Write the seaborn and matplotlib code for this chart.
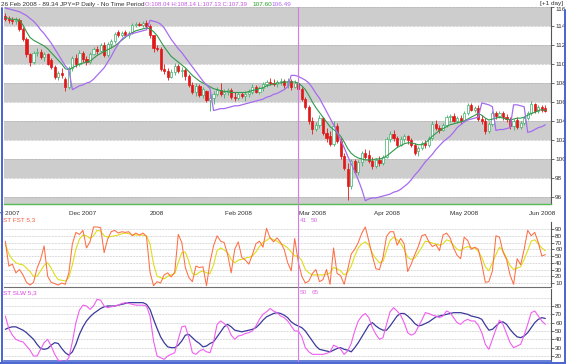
import matplotlib
matplotlib.use("Agg")
import matplotlib.pyplot as plt
from matplotlib.lines import Line2D
import numpy as np
import pandas as pd
import seaborn as sns

# JPY=P daily bars, one per trading day from 1 Nov 2007
start_date = "2007-11-01"

opens = [
    115.1, 114.7, 114.6, 114.5, 114.6, 113.7, 112.6, 111.0, 110.2, 111.2,
    111.3, 110.7, 111.0, 110.4, 109.7, 108.6, 109.1, 108.4, 107.6, 109.6,
    110.6, 110.0, 111.2, 110.5, 110.2, 111.1, 111.6, 111.4, 112.0, 110.9,
    112.1, 112.4, 113.4, 113.0, 113.4, 113.0, 113.3, 114.1, 114.2, 114.1,
    114.3, 114.0, 113.0, 111.7, 111.6, 109.5, 109.3, 108.6, 109.2, 109.8,
    109.3, 109.4, 108.7, 107.8, 107.0, 107.7, 106.7, 107.2, 106.2, 106.4,
    106.8, 107.3, 106.8, 107.0, 107.3, 106.5, 106.4, 106.8, 106.6, 106.8,
    107.1, 107.6, 107.0, 107.5, 107.9, 108.1, 108.0, 107.9, 108.1, 108.2,
    107.8, 108.2, 107.6, 108.04, 107.4, 106.3, 105.5, 104.0, 103.2, 103.6,
    104.3, 102.7, 102.4, 101.6, 103.5, 101.9, 100.3, 98.9, 97.2, 99.8,
    98.6, 99.7, 100.6, 100.4, 99.8, 99.3, 99.9, 99.6, 100.2, 102.1,
    102.6, 102.2, 101.5, 102.1, 102.4, 102.0, 101.5, 100.8, 101.2, 101.7,
    101.5, 102.2, 103.7, 103.3, 103.0, 103.6, 104.4, 104.5, 104.0, 104.3,
    104.0, 104.8, 105.7, 105.2, 105.4, 104.2, 104.0, 102.9, 103.7, 104.8,
    104.5, 104.8, 104.4, 104.2, 103.5, 104.1, 103.4, 103.8, 104.3, 104.8,
    105.8, 105.0, 105.5, 105.4,
]
highs = [
    115.4, 115.0, 114.9, 114.9, 114.8, 113.9, 112.8, 111.2, 111.4, 111.7,
    111.6, 111.3, 111.2, 110.6, 109.9, 109.3, 109.6, 108.6, 109.8, 110.8,
    111.0, 111.5, 111.4, 110.8, 111.3, 111.8, 111.9, 112.2, 112.3, 112.3,
    112.6, 113.4, 113.6, 113.5, 113.6, 113.5, 114.3, 114.4, 114.4, 114.5,
    114.6, 114.2, 113.1, 112.0, 111.8, 110.0, 109.6, 109.5, 110.1, 110.0,
    109.7, 109.6, 108.9, 108.1, 108.0, 107.9, 107.6, 107.3, 106.9, 107.2,
    107.6, 108.0, 107.4, 107.5, 107.5, 107.0, 107.0, 107.1, 107.2, 107.4,
    107.9, 107.8, 107.7, 108.1, 108.3, 108.5, 108.4, 108.3, 108.5, 108.4,
    108.5, 108.4, 108.3, 108.14, 107.6, 106.5, 105.7, 104.4, 103.9, 104.6,
    104.4, 103.3, 102.9, 104.0, 103.8, 102.2, 100.6, 99.6, 100.0, 100.0,
    99.9, 100.8, 101.0, 100.9, 100.2, 100.1, 100.3, 100.4, 102.3, 102.9,
    103.0, 102.4, 102.4, 102.6, 102.5, 102.2, 101.7, 101.4, 101.9, 102.0,
    102.4, 104.0, 104.1, 103.6, 103.8, 104.6, 104.7, 104.8, 104.5, 104.6,
    105.0, 105.9, 105.9, 105.6, 105.7, 104.6, 104.3, 103.9, 105.0, 105.1,
    105.0, 105.0, 104.7, 104.4, 104.2, 104.4, 104.0, 104.5, 105.0, 106.1,
    105.9, 105.7, 105.7, 105.7,
]
lows = [
    114.5, 114.3, 114.2, 114.2, 113.5, 112.4, 110.7, 109.8, 110.0, 110.8,
    110.5, 110.3, 109.9, 109.5, 108.4, 108.3, 108.5, 107.2, 107.4, 109.3,
    109.7, 109.8, 110.2, 109.9, 110.0, 110.9, 111.1, 111.3, 110.7, 110.7,
    111.7, 112.2, 112.8, 112.8, 112.9, 112.7, 113.2, 113.9, 114.0, 113.9,
    113.7, 112.7, 111.3, 111.4, 109.3, 108.9, 108.3, 108.5, 108.8, 109.0,
    108.6, 108.3, 107.6, 106.8, 106.6, 106.5, 106.4, 106.0, 105.0, 105.8,
    106.6, 106.6, 106.4, 106.7, 106.3, 106.1, 106.2, 106.4, 106.1, 106.5,
    106.8, 106.9, 106.8, 107.2, 107.6, 107.8, 107.7, 107.6, 107.8, 107.5,
    107.5, 107.3, 107.5, 107.13, 106.1, 105.3, 103.7, 102.6, 102.9, 103.3,
    102.5, 101.8, 101.4, 101.4, 101.7, 100.0, 98.8, 95.7, 96.8, 98.4,
    98.3, 99.3, 100.0, 99.6, 98.9, 99.0, 99.3, 99.4, 100.1, 101.8,
    101.9, 101.3, 101.4, 101.8, 101.6, 101.3, 100.4, 100.3, 100.9, 101.2,
    101.3, 102.0, 103.0, 102.7, 102.9, 103.4, 103.9, 103.9, 103.8, 103.7,
    103.9, 104.6, 105.0, 104.9, 104.0, 103.7, 102.6, 102.7, 103.5, 104.2,
    104.3, 104.1, 103.9, 103.2, 103.1, 103.2, 103.2, 103.6, 104.1, 104.6,
    104.8, 104.8, 104.9, 104.9,
]
closes = [
    114.7, 114.6, 114.5, 114.6, 113.7, 112.6, 111.1, 110.2, 111.2, 111.3,
    110.7, 111.0, 110.0, 109.7, 108.6, 109.1, 108.8, 107.6, 109.6, 110.6,
    110.0, 111.2, 110.5, 110.2, 111.1, 111.6, 111.4, 112.0, 110.9, 112.1,
    112.4, 113.2, 113.0, 113.3, 113.0, 113.3, 114.1, 114.2, 114.1, 114.3,
    114.0, 113.0, 111.7, 111.6, 109.5, 109.3, 108.6, 109.2, 109.8, 109.3,
    109.4, 108.7, 107.8, 107.0, 107.7, 106.7, 107.4, 106.2, 106.4, 106.8,
    107.3, 106.8, 107.0, 107.3, 106.5, 106.4, 106.8, 106.6, 106.8, 107.1,
    107.6, 107.0, 107.5, 107.9, 108.1, 108.0, 107.9, 108.1, 108.2, 107.8,
    108.2, 107.6, 108.0, 107.39, 106.3, 105.5, 104.0, 103.2, 103.6, 104.3,
    102.7, 102.2, 101.6, 103.5, 101.9, 100.3, 99.0, 97.2, 99.8, 98.6,
    99.7, 100.6, 100.2, 99.8, 99.3, 99.9, 99.6, 100.2, 102.1, 102.6,
    102.2, 101.5, 102.1, 102.4, 102.0, 101.5, 100.6, 101.2, 101.7, 101.5,
    102.2, 103.7, 103.3, 103.0, 103.6, 104.4, 104.5, 104.0, 104.3, 104.0,
    104.8, 105.7, 105.2, 105.4, 104.2, 104.0, 102.9, 103.7, 104.8, 104.5,
    104.8, 104.4, 104.2, 103.5, 104.0, 103.4, 103.8, 104.3, 104.8, 105.8,
    105.0, 105.5, 105.2, 105.1,
]

# green moving average and purple stop-and-reverse line
ma_line = [
    114.9, 114.8, 114.7, 114.7, 114.6, 114.1, 113.4, 112.8, 112.5, 112.3,
    112.1, 111.9, 111.6, 111.2, 110.8, 110.4, 110.0, 109.5, 109.4, 109.6,
    109.8, 110.0, 110.1, 110.2, 110.3, 110.6, 110.9, 111.1, 111.3, 111.5,
    111.7, 111.9, 112.2, 112.5, 112.8, 113.1, 113.3, 113.5, 113.6, 113.7,
    113.8, 113.7, 113.4, 113.0, 112.4, 111.8, 111.3, 110.8, 110.5, 110.2,
    109.9, 109.6, 109.2, 108.8, 108.5, 108.2, 108.0, 107.8, 107.6, 107.4,
    107.3, 107.2, 107.1, 107.1, 107.0, 107.0, 107.0, 107.0, 107.0, 107.1,
    107.2, 107.3, 107.4, 107.5, 107.7, 107.8, 107.9, 108.0, 108.0, 108.1,
    108.1, 108.1, 108.1, 108.0, 107.7, 107.3, 106.7, 106.0, 105.4, 104.9,
    104.4, 103.9, 103.4, 103.1, 102.8, 102.4, 101.8, 101.1, 100.6, 100.3,
    100.1, 100.0, 99.9, 99.9, 99.9, 100.0, 100.0, 100.1, 100.3, 100.6,
    100.9, 101.2, 101.4, 101.6, 101.7, 101.7, 101.6, 101.5, 101.5, 101.7,
    102.0, 102.4, 102.7, 103.0, 103.2, 103.4, 103.6, 103.7, 103.8, 103.9,
    104.0, 104.2, 104.4, 104.6, 104.8, 104.6, 104.3, 104.1, 104.2, 104.3,
    104.4, 104.3, 104.2, 104.1, 104.2, 104.3, 104.3, 104.4, 104.6, 104.8,
    104.9, 105.1, 105.2, 105.1,
]
sar_line = [
    115.9, 115.8, 115.7, 115.6, 115.5, 115.3, 115.1, 114.8, 114.5, 114.1,
    113.6, 113.2, 112.7, 112.2, 111.6, 111.0, 110.4, 109.8, 109.4, 107.3,
    107.5, 107.7, 107.8, 108.0, 108.1, 108.4, 108.8, 109.2, 109.6, 110.2,
    110.8, 111.5, 112.1, 112.6, 112.9, 113.1, 113.2, 113.3, 113.4, 113.5,
    113.6, 114.6, 114.5, 114.4, 114.2, 113.8, 113.2, 112.6, 112.1, 111.6,
    111.2, 110.7, 110.2, 109.7, 109.2, 108.7, 108.2, 107.8, 107.4, 105.1,
    105.2, 105.3, 105.3, 105.4, 105.5, 105.6, 105.6, 105.7, 105.8, 105.9,
    106.0, 106.1, 106.2, 106.3, 106.5, 106.6, 106.8, 106.9, 107.1, 107.3,
    107.6, 108.8, 108.8, 108.7, 108.5, 108.3, 108.0, 107.5, 106.9, 106.4,
    105.7, 105.0, 104.3, 103.6, 102.8, 102.0, 101.2, 100.3, 99.5, 98.7,
    97.8, 96.8, 95.6, 95.8, 95.9, 95.9, 96.0, 96.1, 96.2, 96.3,
    96.5, 96.6, 96.8, 97.1, 97.4, 97.8, 98.3, 98.7, 99.2, 99.7,
    100.1, 100.5, 101.0, 101.4, 101.8, 102.1, 102.4, 102.8, 103.3, 103.6,
    103.9, 104.1, 104.2, 104.3, 104.4, 105.9, 105.8, 105.7, 105.5, 103.0,
    103.1, 103.1, 103.2, 103.3, 105.7, 105.7, 105.6, 105.5, 102.8, 102.9,
    103.1, 103.3, 103.4, 103.6,
]

# stochastics: fast %K, fast %D (= slow %K), slow %D
fast_k = [
    72, 35, 38, 25, 30, 22, 11, 7, 11, 32,
    45, 65, 20, 11, 9, 7, 10, 8, 25, 68,
    85, 82, 88, 62, 71, 93, 93, 92, 55, 75,
    86, 88, 84, 86, 85, 86, 80, 84, 81, 84,
    79, 26, 6, 12, 10, 22, 25, 19, 26, 82,
    70, 33, 18, 12, 35, 33, 34, 6, 41, 65,
    80, 72, 70, 52, 25, 60, 71, 48, 44, 38,
    52, 68, 72, 63, 91, 77, 71, 77, 70, 60,
    40, 28, 76, 41, 20, 10, 13, 24, 30, 12,
    15, 30, 8, 62, 24, 21, 8, 30, 53, 60,
    70, 84, 93, 72, 50, 31, 30, 48, 79, 86,
    86, 66, 76, 68, 27, 38, 52, 64, 80, 82,
    71, 64, 67, 58, 81, 84, 77, 62, 51, 46,
    78, 73, 60, 63, 60, 38, 11, 12, 28, 80,
    78, 56, 45, 22, 8, 46, 37, 60, 88, 80,
    85, 70, 50, 52,
]
fast_d = [
    68, 53, 45, 40, 38, 37, 32, 27, 20, 20,
    28, 36, 40, 32, 22, 15, 14, 13, 18, 37,
    60, 75, 81, 80, 76, 80, 88, 87, 80, 78,
    79, 80, 81, 83, 84, 83, 82, 81, 81, 81,
    80, 68, 38, 20, 18, 16, 20, 22, 24, 40,
    55, 56, 42, 24, 22, 26, 28, 25, 24, 37,
    58, 62, 59, 55, 45, 40, 44, 45, 47, 48,
    50, 56, 64, 70, 73, 77, 74, 72, 68, 66,
    62, 56, 50, 50, 43, 30, 25, 22, 22, 22,
    22, 23, 25, 33, 31, 28, 22, 26, 35, 50,
    62, 68, 71, 66, 54, 46, 40, 42, 58, 73,
    78, 74, 69, 60, 48, 45, 47, 55, 63, 72,
    71, 69, 68, 66, 68, 74, 72, 66, 60, 58,
    62, 64, 62, 62, 57, 48, 34, 28, 40, 52,
    63, 58, 47, 36, 30, 32, 34, 45, 58, 72,
    74, 68, 62, 58,
]
slow_d = [
    52, 54, 55, 55, 53, 51, 48, 44, 40, 34,
    29, 28, 29, 33, 36, 35, 29, 24, 21, 25,
    34, 46, 55, 62, 67, 71, 74, 77, 79, 80,
    80, 80, 81, 82, 83, 84, 84, 84, 84, 84,
    82, 76, 64, 53, 43, 36, 31, 30, 30, 33,
    38, 45, 46, 42, 38, 35, 31, 32, 35, 37,
    43, 49, 55, 58, 55, 51, 50, 49, 50, 51,
    52, 54, 58, 63, 67, 69, 71, 72, 71, 69,
    66, 61, 58, 56, 54, 50, 44, 38, 32, 28,
    27, 26, 25, 27, 29, 30, 28, 27, 25, 30,
    36, 43, 50, 57, 60, 56, 53, 51, 51, 56,
    62, 68, 71, 71, 68, 64, 59, 56, 57, 59,
    61, 64, 67, 68, 69, 70, 71, 72, 72, 72,
    71, 70, 68, 67, 66, 64, 57, 51, 52, 56,
    60, 61, 58, 52, 47, 43, 42, 44, 48, 54,
    60, 64, 66, 65,
]

tick_dates = ["2007-11-01", "2007-12-03", "2008-01-01", "2008-02-01",
              "2008-03-03", "2008-04-01", "2008-05-01", "2008-06-02"]
tick_labels = ["Nov 2007", "Dec 2007", "2008", "Feb 2008",
               "Mar 2008", "Apr 2008", "May 2008", "Jun 2008"]
price_ticks = [96, 98, 100, 102, 104, 106, 108, 110, 112, 114, 116]
fast_ticks = [10, 20, 30, 40, 50, 60, 70, 80, 90]
slow_ticks = [20, 30, 40, 50, 60, 70, 80]
cursor_date = "2008-02-26"

FIG_W, FIG_H = 566, 364
RED = "#e01818"
UP_GREEN = "#3fae6a"
SMALL = 4.6


def box(left, top, right, bottom):
    # pixel box -> figure fraction rect
    return [left / FIG_W, 1 - bottom / FIG_H, (right - left) / FIG_W, (bottom - top) / FIG_H]


def fx(x):
    return x / FIG_W


def fy(y):
    return 1 - y / FIG_H


def main() -> None:
    sns.set_style("white")
    plt.rcParams["font.family"] = ["Liberation Sans", "DejaVu Sans"]

    dates = pd.bdate_range(start_date, periods=len(closes))
    idx = np.arange(len(dates))
    tick_pos = dates.get_indexer(pd.to_datetime(tick_dates))
    cursor_i = dates.get_indexer(pd.to_datetime([cursor_date]))[0]

    fig = plt.figure(figsize=(FIG_W / 100, FIG_H / 100), dpi=100)
    ax_p = fig.add_axes(box(4, 7, 551, 204))
    ax_f = fig.add_axes(box(4, 222, 551, 287))
    ax_s = fig.add_axes(box(4, 289, 551, 361))

    xlim = (-0.37, 154.6)

    # ---- price panel
    for lo in range(94, 116, 4):
        ax_p.axhspan(lo, lo + 2, color="#cdcdcd", lw=0, zorder=0)
    for lev in range(94, 118, 2):
        ax_p.axhline(lev, color="#a8a8a8", lw=0.5, ls=(0, (1, 1)), zorder=1)

    o = np.array(opens)
    c = np.array(closes)
    up = c >= o
    edge = np.where(up, UP_GREEN, RED)
    face = np.where(up, "white", RED)
    ax_p.vlines(idx, lows, highs, colors=edge, linewidth=0.6, zorder=3)
    ax_p.bar(idx, c - o, bottom=o, width=0.62, color=face, edgecolor=edge,
             linewidth=0.5, zorder=4)

    sns.lineplot(x=idx, y=ma_line, ax=ax_p, color="#2f9a4a", linewidth=0.8, zorder=5)
    sns.lineplot(x=idx, y=sar_line, ax=ax_p, color="#a66cf0", linewidth=0.9, zorder=6)

    ax_p.set_xlim(xlim)
    ax_p.set_ylim(95.26, 116.0)
    ax_p.set_yticks(price_ticks)
    ax_p.set_xticks(tick_pos)
    ax_p.set_xticklabels(tick_labels)

    # ---- fast stochastic
    sns.lineplot(x=idx, y=fast_d, ax=ax_f, color="#dede1a", linewidth=0.8, zorder=4)
    sns.lineplot(x=idx, y=fast_k, ax=ax_f, color="#ff6e45", linewidth=0.75, zorder=5)
    ax_f.set_xlim(xlim)
    ax_f.set_ylim(4.1, 100.4)
    ax_f.set_yticks(fast_ticks)
    ax_f.set_xticks([])

    # ---- slow stochastic
    sns.lineplot(x=idx, y=slow_d, ax=ax_s, color="#3a3a9a", linewidth=0.9, zorder=4)
    sns.lineplot(x=idx, y=fast_d, ax=ax_s, color="#f05ef0", linewidth=0.8, zorder=5)
    ax_s.set_xlim(xlim)
    ax_s.set_ylim(14.0, 100.4)
    ax_s.set_yticks(slow_ticks)
    ax_s.set_xticks([])

    for ax, grid in ((ax_f, fast_ticks), (ax_s, slow_ticks + [90])):
        for lev in grid:
            ax.axhline(lev, color="#b4b4b4", lw=0.5, ls=(0, (1, 1.2)), zorder=1)

    for ax in (ax_p, ax_f, ax_s):
        ax.set_xlabel("")
        ax.set_ylabel("")
        ax.set_facecolor("white")
        ax.yaxis.tick_right()
        ax.tick_params(axis="y", labelsize=SMALL, length=2, pad=1, width=0.5,
                       colors="#303030")
        ax.spines["left"].set_visible(False)
        ax.spines["top"].set_visible(False)
        ax.spines["right"].set_color("#555555")
        ax.spines["right"].set_linewidth(0.8)
    ax_p.tick_params(axis="x", labelsize=SMALL, length=3, pad=2, width=0.5,
                     colors="#303030")
    # keep the top price label inside the panel, under the header
    ax_p.yaxis.get_major_ticks()[-1].label2.set_verticalalignment("top")
    ax_p.spines["bottom"].set_color("#55bb55")
    ax_p.spines["bottom"].set_linewidth(1.0)
    ax_f.spines["bottom"].set_color("#707070")
    ax_f.spines["bottom"].set_linewidth(0.8)
    ax_s.spines["bottom"].set_color("#4a6ad0")
    ax_s.spines["bottom"].set_linewidth(1.2)

    # cursor line through every panel
    disp = ax_p.transData.transform((cursor_i, 100))
    cx = fig.transFigure.inverted().transform(disp)[0]
    fig.add_artist(Line2D([cx, cx], [fy(361), fy(7)], transform=fig.transFigure,
                          color="#d27ae8", lw=0.8, zorder=10))

    # window frame
    frame = "#4a64d0"
    fig.add_artist(Line2D([fx(1.5), fx(1.5)], [0, fy(8)], transform=fig.transFigure,
                          color=frame, lw=1.4))
    fig.add_artist(Line2D([fx(564.5), fx(564.5)], [0, fy(10)], transform=fig.transFigure,
                          color=frame, lw=1.4))
    fig.add_artist(Line2D([0, 1], [fy(363), fy(363)], transform=fig.transFigure,
                          color=frame, lw=1.4))

    # header and panel captions
    kw = dict(fontsize=SMALL, va="center", ha="left")
    fig.text(fx(1), fy(4.5), "26 Feb 2008 - 89.34 JPY=P Daily - No Time Period",
             color="#303030", **kw)
    fig.text(fx(145), fy(4.5), "O:108.04 H:108.14 L:107.13 C:107.39", color="#c455e0",
             fontsize=4.3, va="center", ha="left")
    fig.text(fx(252), fy(4.5), "107.60", color="#22a022", **kw)
    fig.text(fx(271), fy(4.5), "106.49", color="#b066f0", **kw)
    fig.text(fx(540), fy(3.5), "[+1 day]", color="#303030", **kw)
    fig.text(fx(3), fy(220), "ST FST 5,3", color="#f06040", **kw)
    fig.text(fx(300), fy(220), "41", color="#d070e0", **kw)
    fig.text(fx(311), fy(220), "50", color="#d070e0", **kw)
    fig.text(fx(3), fy(293), "ST SLW 5,3", color="#e040e0", **kw)
    fig.text(fx(300), fy(293), "50", color="#e070e0", **kw)
    fig.text(fx(312), fy(293), "65", color="#e070e0", **kw)

    fig.savefig("out.png", dpi=100)
    plt.close(fig)


if __name__ == "__main__":
    main()
